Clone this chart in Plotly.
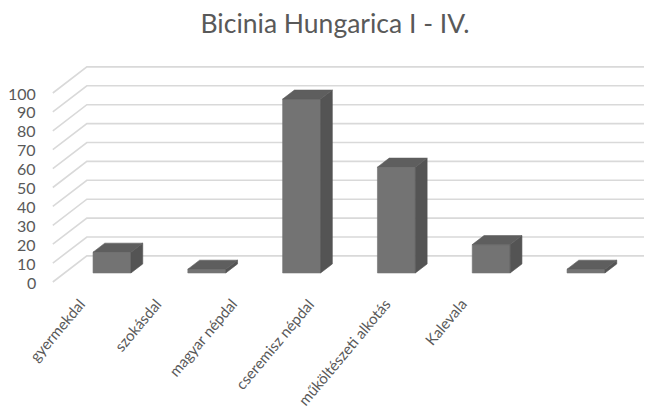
import plotly.graph_objects as go

title = "Bicinia Hungarica I - IV."
categories = ["gyermekdal", "szokásdal", "magyar népdal", "cseremisz népdal",
              "műköltészeti alkotás", "Kalevala"]
values = [11, 2, 92, 56, 15, 2]
y_ticks = [0, 10, 20, 30, 40, 50, 60, 70, 80, 90, 100]

# page body has an 8px margin: figure is drawn 8px in from the window corner
OFF = 8
W, H = 652 - OFF, 415 - OFF
PX_X = 94.8          # px per category
PX_Y = 1.89          # px per value unit
X0_PX = 112 - OFF    # px of first bar centre
Y0_PX = 282 - OFF    # px of front-floor zero
DEPTH_DX, DEPTH_DY = 0.359, 13.8      # full floor depth offset
BAR_DX, BAR_DY = DEPTH_DX * 9 / 26, DEPTH_DY * 9 / 26
BAR_W = 0.40
FRONT_X = -0.5 - BAR_DX
BASE = BAR_DY        # bar front base height above front floor edge

x_range = [-X0_PX / PX_X, (W - X0_PX) / PX_X]
y_range = [(Y0_PX - H) / PX_Y, Y0_PX / PX_Y]

fig = go.Figure()

# grid lines: side wall + back wall
for v in y_ticks:
    fig.add_trace(go.Scatter(
        x=[FRONT_X, FRONT_X + DEPTH_DX, 6.5],
        y=[v, v + DEPTH_DY, v + DEPTH_DY],
        mode="lines", line=dict(color="#d9d9d9", width=1.6),
        hoverinfo="skip", showlegend=False))

# 3D bars
for i, (c, v) in enumerate(zip(categories, values)):
    l, r = i - BAR_W / 2, i + BAR_W / 2
    b, t = BASE, BASE + v
    faces = [
        ([l, r, r, l, l], [b, b, t, t, b], "#737373"),
        ([r, r + BAR_DX, r + BAR_DX, r, r], [b, b + BAR_DY, t + BAR_DY, t, b], "#545454"),
        ([l, r, r + BAR_DX, l + BAR_DX, l], [t, t, t + BAR_DY, t + BAR_DY, t], "#5e5e5e"),
    ]
    for fx, fy, col in faces:
        fig.add_trace(go.Scatter(
            x=fx, y=fy, mode="lines", fill="toself", fillcolor=col,
            line=dict(color=col, width=0.6), name=c,
            hoverinfo="skip", showlegend=False))

# y tick labels at the front edge
for v in y_ticks:
    fig.add_annotation(x=FRONT_X - 0.16, y=v, text=str(v), showarrow=False,
                       xanchor="right", yanchor="middle",
                       font=dict(family="Lato", size=16, color="#595959"))

# category labels (anchored at the end of each rotated label)
for i, c in enumerate(categories):
    fig.add_annotation(x=(91 - OFF + 76.3 * i) / W, y=1 - (292 - OFF) / H,
                       xref="paper", yref="paper",
                       text=c, showarrow=False, textangle=-50,
                       xanchor="right", yanchor="top",
                       font=dict(family="Lato", size=15, color="#595959"))

fig.update_layout(
    width=W, height=H,
    margin=dict(l=0, r=0, t=0, b=0),
    paper_bgcolor="white", plot_bgcolor="white",
    title=dict(text=title, x=(335 - OFF) / W, xanchor="center",
               y=1 - (24 - OFF) / H, yanchor="middle", yref="container",
               font=dict(family="Lato", size=26.5, color="#595959")),
    xaxis=dict(range=x_range, visible=False, fixedrange=True),
    yaxis=dict(range=y_range, visible=False, fixedrange=True),
    showlegend=False,
)

fig.write_html("out.html")
